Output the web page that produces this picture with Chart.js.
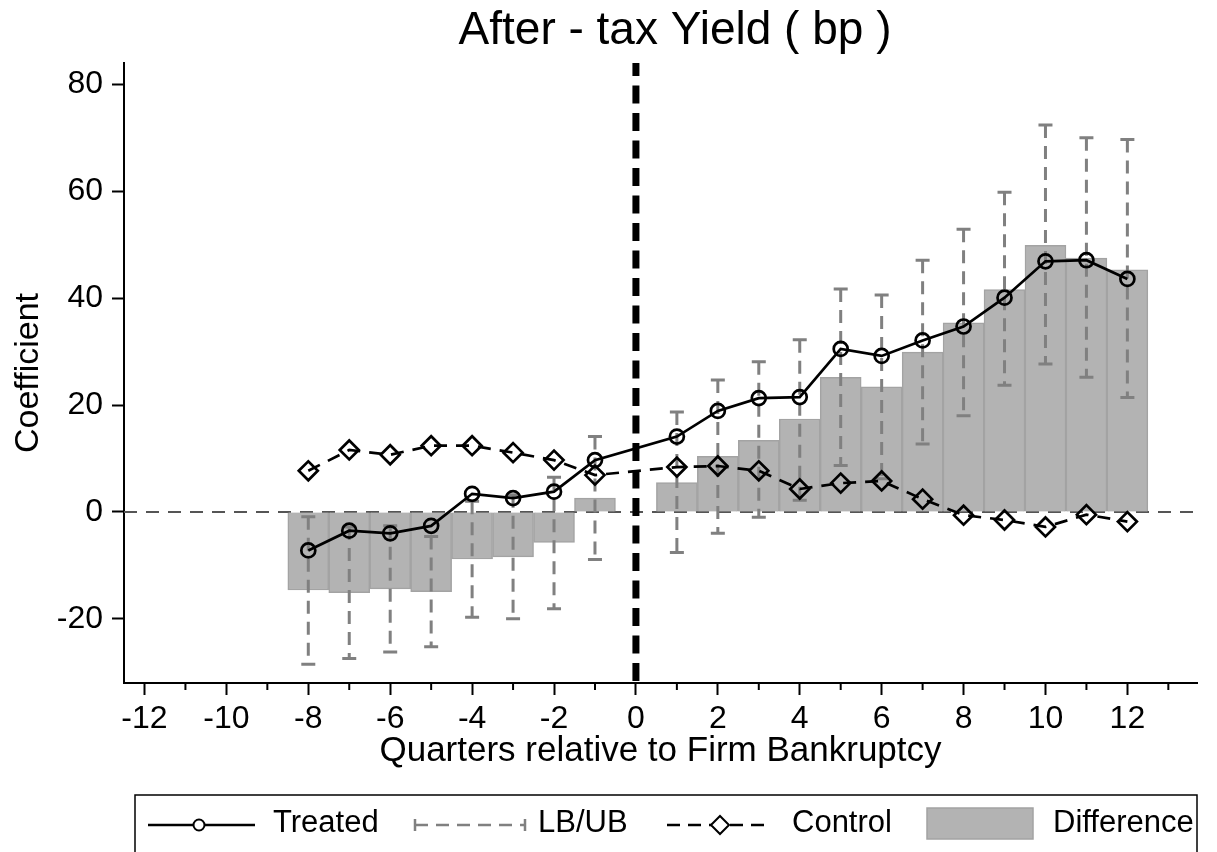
<!DOCTYPE html>
<html>
<head>
<meta charset="utf-8">
<script src="https://cdn.jsdelivr.net/npm/chart.js@4.4.1/dist/chart.umd.min.js"></script>
<style>
  html, body { margin: 0; padding: 0; background: #fff; }
  canvas { display: block; }
</style>
</head>
<body>
<canvas id="grafik" width="1217" height="852"></canvas>
<script>
// values (quarter 0 is not estimated)
const quarters   = [-8, -7, -6, -5, -4, -3, -2, -1, 1, 2, 3, 4, 5, 6, 7, 8, 9, 10, 11, 12];
const treated    = [-7.2, -3.5, -4.0, -2.6, 3.4, 2.6, 3.8, 9.7, 14.1, 18.9, 21.3, 21.5, 30.5, 29.2, 32.1, 34.7, 40.1, 46.9, 47.1, 43.6];
const control    = [7.7, 11.6, 10.7, 12.4, 12.4, 11.1, 9.7, 6.9, 8.4, 8.6, 7.7, 4.3, 5.4, 5.8, 2.4, -0.6, -1.5, -2.8, -0.5, -1.8];
const difference = [-14.6, -15.1, -14.4, -14.9, -8.8, -8.4, -5.7, 2.6, 5.5, 10.4, 13.4, 17.4, 25.2, 23.4, 29.9, 35.4, 41.6, 49.9, 47.5, 45.3];
const lowerBound = [-28.5, -27.4, -26.2, -25.2, -19.7, -20.0, -18.1, -8.9, -7.6, -4.0, -1.0, 2.2, 8.7, 6.2, 12.7, 18.0, 23.7, 27.7, 25.2, 21.4];
const upperBound = [-0.9, -2.8, -2.6, -4.6, 2.0, 3.2, 6.5, 14.1, 18.7, 24.7, 28.1, 32.2, 41.7, 40.6, 47.1, 52.9, 59.8, 72.4, 70.0, 69.7];

const baslik = "After - tax Yield ( bp )";
const xBaslik = "Quarters relative to Firm Bankruptcy";
const yBaslik = "Coefficient";
const legendLabels = ["Treated", "LB/UB", "Control", "Difference"];

const FONT = '"Liberation Sans", Arial, sans-serif';
const GRI = "#808080";
const BAR_FILL = "#b3b3b3";
const BAR_KENAR = "#a3a3a3";

Chart.defaults.font.family = FONT;
Chart.defaults.color = "#000";

const noktalar = arr => quarters.map((q, i) => ({ x: q, y: arr[i] }));

// Zero line below the data, thick vertical line at 0 above it
const cizgiler = {
  id: "cizgiler",
  beforeDatasetsDraw(chart) {
    const { ctx, chartArea, scales } = chart;
    const y0 = scales.y.getPixelForValue(0);
    ctx.save();
    ctx.strokeStyle = "#555";
    ctx.lineWidth = 2;
    ctx.setLineDash([13, 9]);
    ctx.beginPath();
    ctx.moveTo(chartArea.left, y0);
    ctx.lineTo(chartArea.right, y0);
    ctx.stroke();
    ctx.restore();
  },
  afterDatasetsDraw(chart) {
    const { ctx, chartArea, scales } = chart;
    const x0 = scales.x.getPixelForValue(0);
    ctx.save();
    ctx.strokeStyle = "#000";
    ctx.lineWidth = 7;
    ctx.setLineDash([18, 9.5]);
    ctx.lineDashOffset = 5;
    ctx.beginPath();
    ctx.moveTo(x0, chartArea.top);
    ctx.lineTo(x0, chartArea.bottom);
    ctx.stroke();
    ctx.restore();
  }
};

// LB/UB dashed spikes with caps, right after the bars
const hataCubuklari = {
  id: "hataCubuklari",
  afterDatasetDraw(chart, args) {
    if (args.index !== 0) return;
    const { ctx, scales } = chart;
    ctx.save();
    ctx.strokeStyle = GRI;
    ctx.lineWidth = 3;
    quarters.forEach((q, i) => {
      const x = scales.x.getPixelForValue(q);
      const yl = scales.y.getPixelForValue(lowerBound[i]);
      const yu = scales.y.getPixelForValue(upperBound[i]);
      ctx.setLineDash([13, 8]);
      ctx.beginPath();
      ctx.moveTo(x, yu);
      ctx.lineTo(x, yl);
      ctx.stroke();
      ctx.setLineDash([]);
      ctx.beginPath();
      ctx.moveTo(x - 7, yu);
      ctx.lineTo(x + 7, yu);
      ctx.moveTo(x - 7, yl);
      ctx.lineTo(x + 7, yl);
      ctx.stroke();
    });
    ctx.restore();
  }
};

// minor ticks at odd quarters
const araTikler = {
  id: "araTikler",
  afterDraw(chart) {
    const { ctx, chartArea, scales } = chart;
    ctx.save();
    ctx.strokeStyle = "#000";
    ctx.lineWidth = 2;
    scales.x.ticks.forEach(t => {
      if (Math.abs(t.value % 2) !== 1) return;
      const x = scales.x.getPixelForValue(t.value);
      ctx.beginPath();
      ctx.moveTo(x, chartArea.bottom);
      ctx.lineTo(x, chartArea.bottom + 7);
      ctx.stroke();
    });
    ctx.restore();
  }
};

// title and boxed legend
const baslikVeLegend = {
  id: "baslikVeLegend",
  afterDraw(chart) {
    const { ctx } = chart;
    ctx.save();
    ctx.fillStyle = "#000";
    ctx.textAlign = "center";
    ctx.textBaseline = "middle";
    ctx.font = "46px " + FONT;
    ctx.fillText(baslik, 675, 31);

    ctx.strokeStyle = "#000";
    ctx.lineWidth = 1.5;
    ctx.strokeRect(135, 795, 1197 - 135, 120);

    const ly = 825;
    // Treated
    ctx.lineWidth = 2.5;
    ctx.beginPath();
    ctx.moveTo(148, ly); ctx.lineTo(255, ly);
    ctx.stroke();
    ctx.beginPath();
    ctx.arc(199, ly, 5.5, 0, Math.PI * 2);
    ctx.fillStyle = "#fff";
    ctx.fill();
    ctx.lineWidth = 2;
    ctx.stroke();
    // LB/UB
    ctx.strokeStyle = GRI;
    ctx.lineWidth = 2.5;
    ctx.setLineDash([13, 8]);
    ctx.beginPath();
    ctx.moveTo(415, ly); ctx.lineTo(525, ly);
    ctx.stroke();
    ctx.setLineDash([]);
    ctx.beginPath();
    ctx.moveTo(415, ly - 6); ctx.lineTo(415, ly + 6);
    ctx.moveTo(525, ly - 6); ctx.lineTo(525, ly + 6);
    ctx.stroke();
    // Control
    ctx.strokeStyle = "#000";
    ctx.setLineDash([13, 8]);
    ctx.beginPath();
    ctx.moveTo(667, ly); ctx.lineTo(765, ly);
    ctx.stroke();
    ctx.setLineDash([]);
    ctx.beginPath();
    ctx.moveTo(711, ly); ctx.lineTo(720, ly - 9); ctx.lineTo(729, ly);
    ctx.lineTo(720, ly + 9); ctx.closePath();
    ctx.fillStyle = "#fff";
    ctx.fill();
    ctx.lineWidth = 2;
    ctx.stroke();
    // Difference
    ctx.fillStyle = BAR_FILL;
    ctx.fillRect(927, 808, 106, 31);
    ctx.strokeStyle = BAR_KENAR;
    ctx.lineWidth = 1.5;
    ctx.strokeRect(927, 808, 106, 31);

    ctx.fillStyle = "#000";
    ctx.textAlign = "left";
    ctx.font = "31px " + FONT;
    ctx.fillText(legendLabels[0], 273, 823);
    ctx.fillText(legendLabels[1], 538, 823);
    ctx.fillText(legendLabels[2], 792, 823);
    ctx.fillText(legendLabels[3], 1053, 823);
    ctx.restore();
  }
};

new Chart(document.getElementById("grafik"), {
  type: "bar",
  data: {
    datasets: [
      {
        type: "bar",
        label: legendLabels[3],
        data: noktalar(difference),
        backgroundColor: BAR_FILL,
        borderColor: BAR_KENAR,
        borderWidth: 1.5,
        barPercentage: 1,
        categoryPercentage: 1,
        order: 3
      },
      {
        type: "line",
        label: legendLabels[0],
        data: noktalar(treated),
        borderColor: "#000",
        borderWidth: 2.7,
        pointStyle: "circle",
        pointRadius: 7,
        pointBorderWidth: 2.7,
        pointBackgroundColor: "rgba(0,0,0,0)",
        pointBorderColor: "#000",
        tension: 0,
        order: 1
      },
      {
        type: "line",
        label: legendLabels[2],
        data: noktalar(control),
        borderColor: "#000",
        borderWidth: 2.7,
        borderDash: [13, 9],
        pointStyle: "rectRot",
        pointRadius: 9.5,
        pointBorderWidth: 2.7,
        pointBackgroundColor: "rgba(0,0,0,0)",
        pointBorderColor: "#000",
        tension: 0,
        order: 2
      }
    ]
  },
  options: {
    responsive: false,
    animation: false,
    devicePixelRatio: 1,
    layout: { padding: { top: 63, right: 20, bottom: 80, left: 0 } },
    plugins: {
      legend: { display: false },
      tooltip: { enabled: false },
      title: { display: false }
    },
    scales: {
      x: {
        type: "linear",
        min: -12.5,
        max: 13.7,
        offset: false,
        afterFit: s => { s.height = 89; },
        border: { display: true, color: "#000", width: 2 },
        grid: {
          offset: false,
          drawOnChartArea: false,
          drawTicks: true,
          tickLength: 12,
          tickWidth: 2,
          tickColor: c => (c.tick && Math.abs(c.tick.value % 2) === 0) ? "#000" : "rgba(0,0,0,0)"
        },
        ticks: {
          stepSize: 1,
          includeBounds: false,
          autoSkip: false,
          maxRotation: 0,
          padding: 5,
          font: { size: 32 },
          callback: v => (Math.abs(v % 2) === 0 ? String(v) : "")
        },
        title: {
          display: true,
          text: xBaslik,
          font: { size: 35 },
          padding: { top: 0, bottom: 0 }
        }
      },
      y: {
        min: -32,
        max: 84,
        afterFit: s => { s.width = 124; },
        border: { display: true, color: "#000", width: 2 },
        grid: {
          drawOnChartArea: false,
          drawTicks: true,
          tickLength: 12,
          tickWidth: 2,
          tickColor: "#000"
        },
        ticks: {
          stepSize: 20,
          includeBounds: false,
          padding: 9,
          font: { size: 32 },
          callback: v => String(v)
        },
        title: {
          display: true,
          text: yBaslik,
          font: { size: 34 },
          padding: { top: 8, bottom: 0 }
        }
      }
    }
  },
  plugins: [cizgiler, hataCubuklari, araTikler, baslikVeLegend]
});
</script>
</body>
</html>
